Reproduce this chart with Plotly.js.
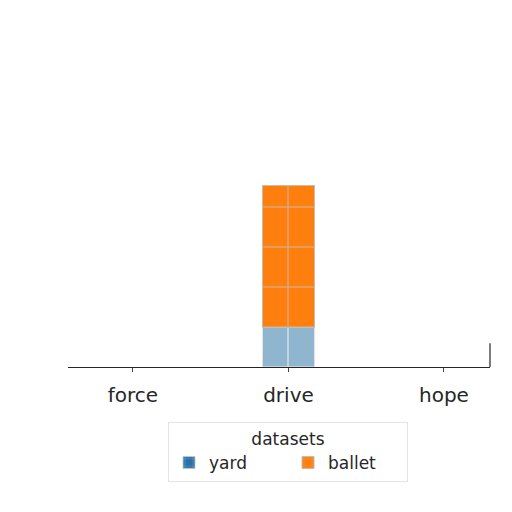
<!DOCTYPE html>
<html>
<head>
<meta charset="utf-8">
<script src="https://cdn.plot.ly/plotly-3.0.1.min.js"></script>
<style>
  html, body { margin: 0; padding: 0; background: #fff; }
  #chart { width: 512px; height: 512px; }
</style>
</head>
<body>
<div id="chart"></div>
<script>
// categories and the two stacked series
var categories = ['force', 'drive', 'hope'];
var yardValues = [0, 1.0, 0];
var balletValues = [0, 3.55, 0];

var yard = {
    x: categories,
    y: yardValues,
    name: 'yard',
    type: 'bar',
    marker: {
        color: '#1f77b4',
        opacity: 0.52,
        line: { color: 'rgba(190,200,210,0.9)', width: 1 },
        pattern: { shape: '+', size: 40, solidity: 0.05, bgcolor: '#2a72a5', fgcolor: '#e0e6ec' }
    }
};

var ballet = {
    x: categories,
    y: balletValues,
    name: 'ballet',
    type: 'bar',
    marker: {
        color: '#ff7f0e',
        line: { color: '#c8bcb0', width: 1 },
        pattern: { shape: '+', size: 40, solidity: 0.05, bgcolor: '#ff7f0e', fgcolor: '#c8b8a8' }
    }
};

var layout = {
    width: 512,
    height: 512,
    margin: { l: 68, r: 22, t: 27, b: 145 },
    paper_bgcolor: '#fff',
    plot_bgcolor: 'rgba(0,0,0,0)',
    barmode: 'stack',
    bargap: 0.667,
    font: { family: 'DejaVu Sans', color: '#262626' },
    xaxis: {
        type: 'category',
        range: [-0.418, 2.296],
        showgrid: false,
        zeroline: false,
        showline: true,
        linecolor: '#262626',
        linewidth: 1.2,
        ticks: 'outside',
        ticklen: 4,
        tickcolor: '#444',
        ticklabelstandoff: 6,
        tickfont: { size: 20, color: '#262626' },
        fixedrange: true
    },
    yaxis: {
        range: [0, 8.5],
        showgrid: false,
        zeroline: false,
        showline: false,
        showticklabels: false,
        ticks: '',
        fixedrange: true
    },
    showlegend: true,
    legend: {
        orientation: 'h',
        xref: 'container',
        yref: 'container',
        x: 0.5625,
        xanchor: 'center',
        y: 0.176,
        yanchor: 'top',
        bgcolor: 'rgba(255,255,255,0.92)',
        bordercolor: '#e4e4e4',
        borderwidth: 1,
        font: { size: 17, color: '#262626' },
        title: { text: 'datasets', side: 'top center', font: { size: 17, color: '#262626' } },
        entrywidth: 74,
        traceorder: 'normal'
    },
    shapes: [
        // short right spine stub
        { type: 'line', xref: 'paper', yref: 'paper', x0: 1, x1: 1, y0: 0, y1: 0.07,
          line: { color: '#262626', width: 1.2 } }
    ]
};

Plotly.newPlot('chart', [yard, ballet], layout, { displayModeBar: false, staticPlot: true });
</script>
</body>
</html>
